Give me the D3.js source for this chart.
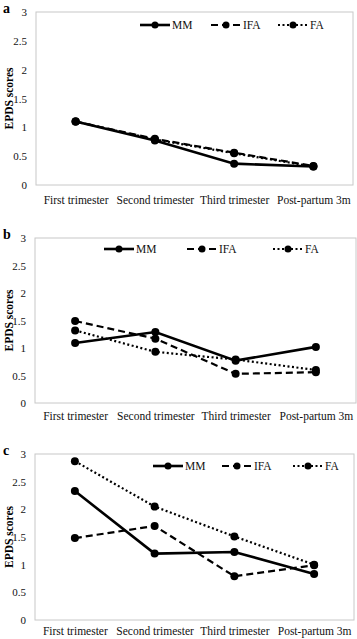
<!DOCTYPE html>
<html>
<head>
<meta charset="utf-8">
<script src="https://cdn.jsdelivr.net/npm/d3@7"></script>
<style>
  body { margin: 0; background: #fff; }
  svg text { font-family: "Liberation Serif", "DejaVu Serif", serif; }
</style>
</head>
<body>
<svg id="chart" width="357" height="639"></svg>
<script>
// Data
var categories = ["First trimester", "Second trimester", "Third trimester", "Post-partum 3m"];
var seriesNames = ["MM", "IFA", "FA"];
var yTicks = [0, 0.5, 1, 1.5, 2, 2.5, 3];

// panel a
var aMM  = [1.10, 0.77, 0.37, 0.32];
var aIFA = [1.10, 0.80, 0.56, 0.33];
var aFA  = [1.10, 0.79, 0.55, 0.32];
// panel b
var bMM  = [1.09, 1.29, 0.77, 1.02];
var bIFA = [1.49, 1.17, 0.53, 0.56];
var bFA  = [1.32, 0.93, 0.79, 0.60];
// panel c
var cMM  = [2.33, 1.20, 1.23, 0.83];
var cIFA = [1.48, 1.70, 0.79, 0.99];
var cFA  = [2.87, 2.05, 1.51, 1.00];

// line styles per series
var styles = {
  MM:  { width: 2.6, dash: null },
  IFA: { width: 2.2, dash: "7,4" },
  FA:  { width: 2.2, dash: "2,2.5" }
};

var serif = "Liberation Serif, DejaVu Serif, serif";
var svg = d3.select("#chart");

function drawPanel(p) {
  var g = svg.append("g");

  var x = d3.scalePoint().domain(categories).range([p.left, p.right]).padding(0.5);
  var y = d3.scaleLinear().domain([0, 3]).range([p.bottom, p.top]);

  // panel letter
  g.append("text")
    .attr("x", 3).attr("y", p.top + 1)
    .attr("font-family", serif)
    .style("font-size", "14px").style("font-weight", "bold")
    .text(p.letter);

  // plot border
  g.append("rect")
    .attr("x", p.left).attr("y", p.top)
    .attr("width", p.right - p.left).attr("height", p.bottom - p.top)
    .attr("fill", "none").attr("stroke", "#c8c8c8").attr("stroke-width", 1);

  // y axis (ticks as labels only)
  var yAxis = d3.axisLeft(y).tickValues(yTicks).tickSize(0).tickPadding(9)
    .tickFormat(function(d) { return String(d); });
  var yEl = g.append("g").attr("transform", "translate(" + p.left + ",0)").call(yAxis)
    .attr("font-family", serif);
  yEl.select(".domain").remove();
  yEl.selectAll("text").style("font-size", "11px").attr("fill", "#111");

  // x axis
  var xAxis = d3.axisBottom(x).tickSize(0).tickPadding(p.xPad);
  var xEl = g.append("g").attr("transform", "translate(0," + p.bottom + ")").call(xAxis)
    .attr("font-family", serif);
  xEl.select(".domain").remove();
  xEl.selectAll("text").style("font-size", "11.5px").attr("fill", "#111");

  // y label
  g.append("text")
    .attr("transform", "translate(" + 13 + "," + ((p.top + p.bottom) / 2) + ") rotate(-90)")
    .attr("text-anchor", "middle")
    .attr("font-family", serif)
    .style("font-size", "11.5px").style("font-weight", "bold")
    .text("EPDS scores");

  var line = d3.line()
    .x(function(d, i) { return x(categories[i]); })
    .y(function(d) { return y(d); });

  // draw FA first, then IFA, then MM on top
  var order = [2, 1, 0];
  order.forEach(function(k) {
    var name = seriesNames[k];
    var vals = p.series[k];
    var st = styles[name];
    g.append("path").datum(vals)
      .attr("d", line)
      .attr("fill", "none").attr("stroke", "#000")
      .attr("stroke-width", st.width)
      .attr("stroke-dasharray", st.dash);
    g.selectAll(null).data(vals).enter().append("circle")
      .attr("cx", function(d, i) { return x(categories[i]); })
      .attr("cy", function(d) { return y(d); })
      .attr("r", 4).attr("fill", "#000");
  });

  // legend
  seriesNames.forEach(function(name, k) {
    var lx = p.legend[k], ly = p.legendY;
    var st = styles[name];
    g.append("line")
      .attr("x1", lx).attr("x2", lx + 30).attr("y1", ly).attr("y2", ly)
      .attr("stroke", "#000").attr("stroke-width", st.width)
      .attr("stroke-dasharray", st.dash);
    g.append("circle").attr("cx", lx + 15).attr("cy", ly).attr("r", 3.5).attr("fill", "#000");
    g.append("text")
      .attr("x", lx + 32).attr("y", ly + 4)
      .attr("font-family", serif)
      .style("font-size", "11.5px").attr("fill", "#111")
      .text(name);
  });
}

drawPanel({ letter: "a", left: 36, right: 353, top: 12, bottom: 185, xPad: 11,
  series: [aMM, aIFA, aFA], legend: [140, 211, 278], legendY: 25 });
drawPanel({ letter: "b", left: 35, right: 356, top: 238, bottom: 403, xPad: 9,
  series: [bMM, bIFA, bFA], legend: [104, 187, 273], legendY: 249 });
drawPanel({ letter: "c", left: 35, right: 354, top: 454, bottom: 620, xPad: 7,
  series: [cMM, cIFA, cFA], legend: [153, 222, 293], legendY: 466 });
</script>
</body>
</html>
